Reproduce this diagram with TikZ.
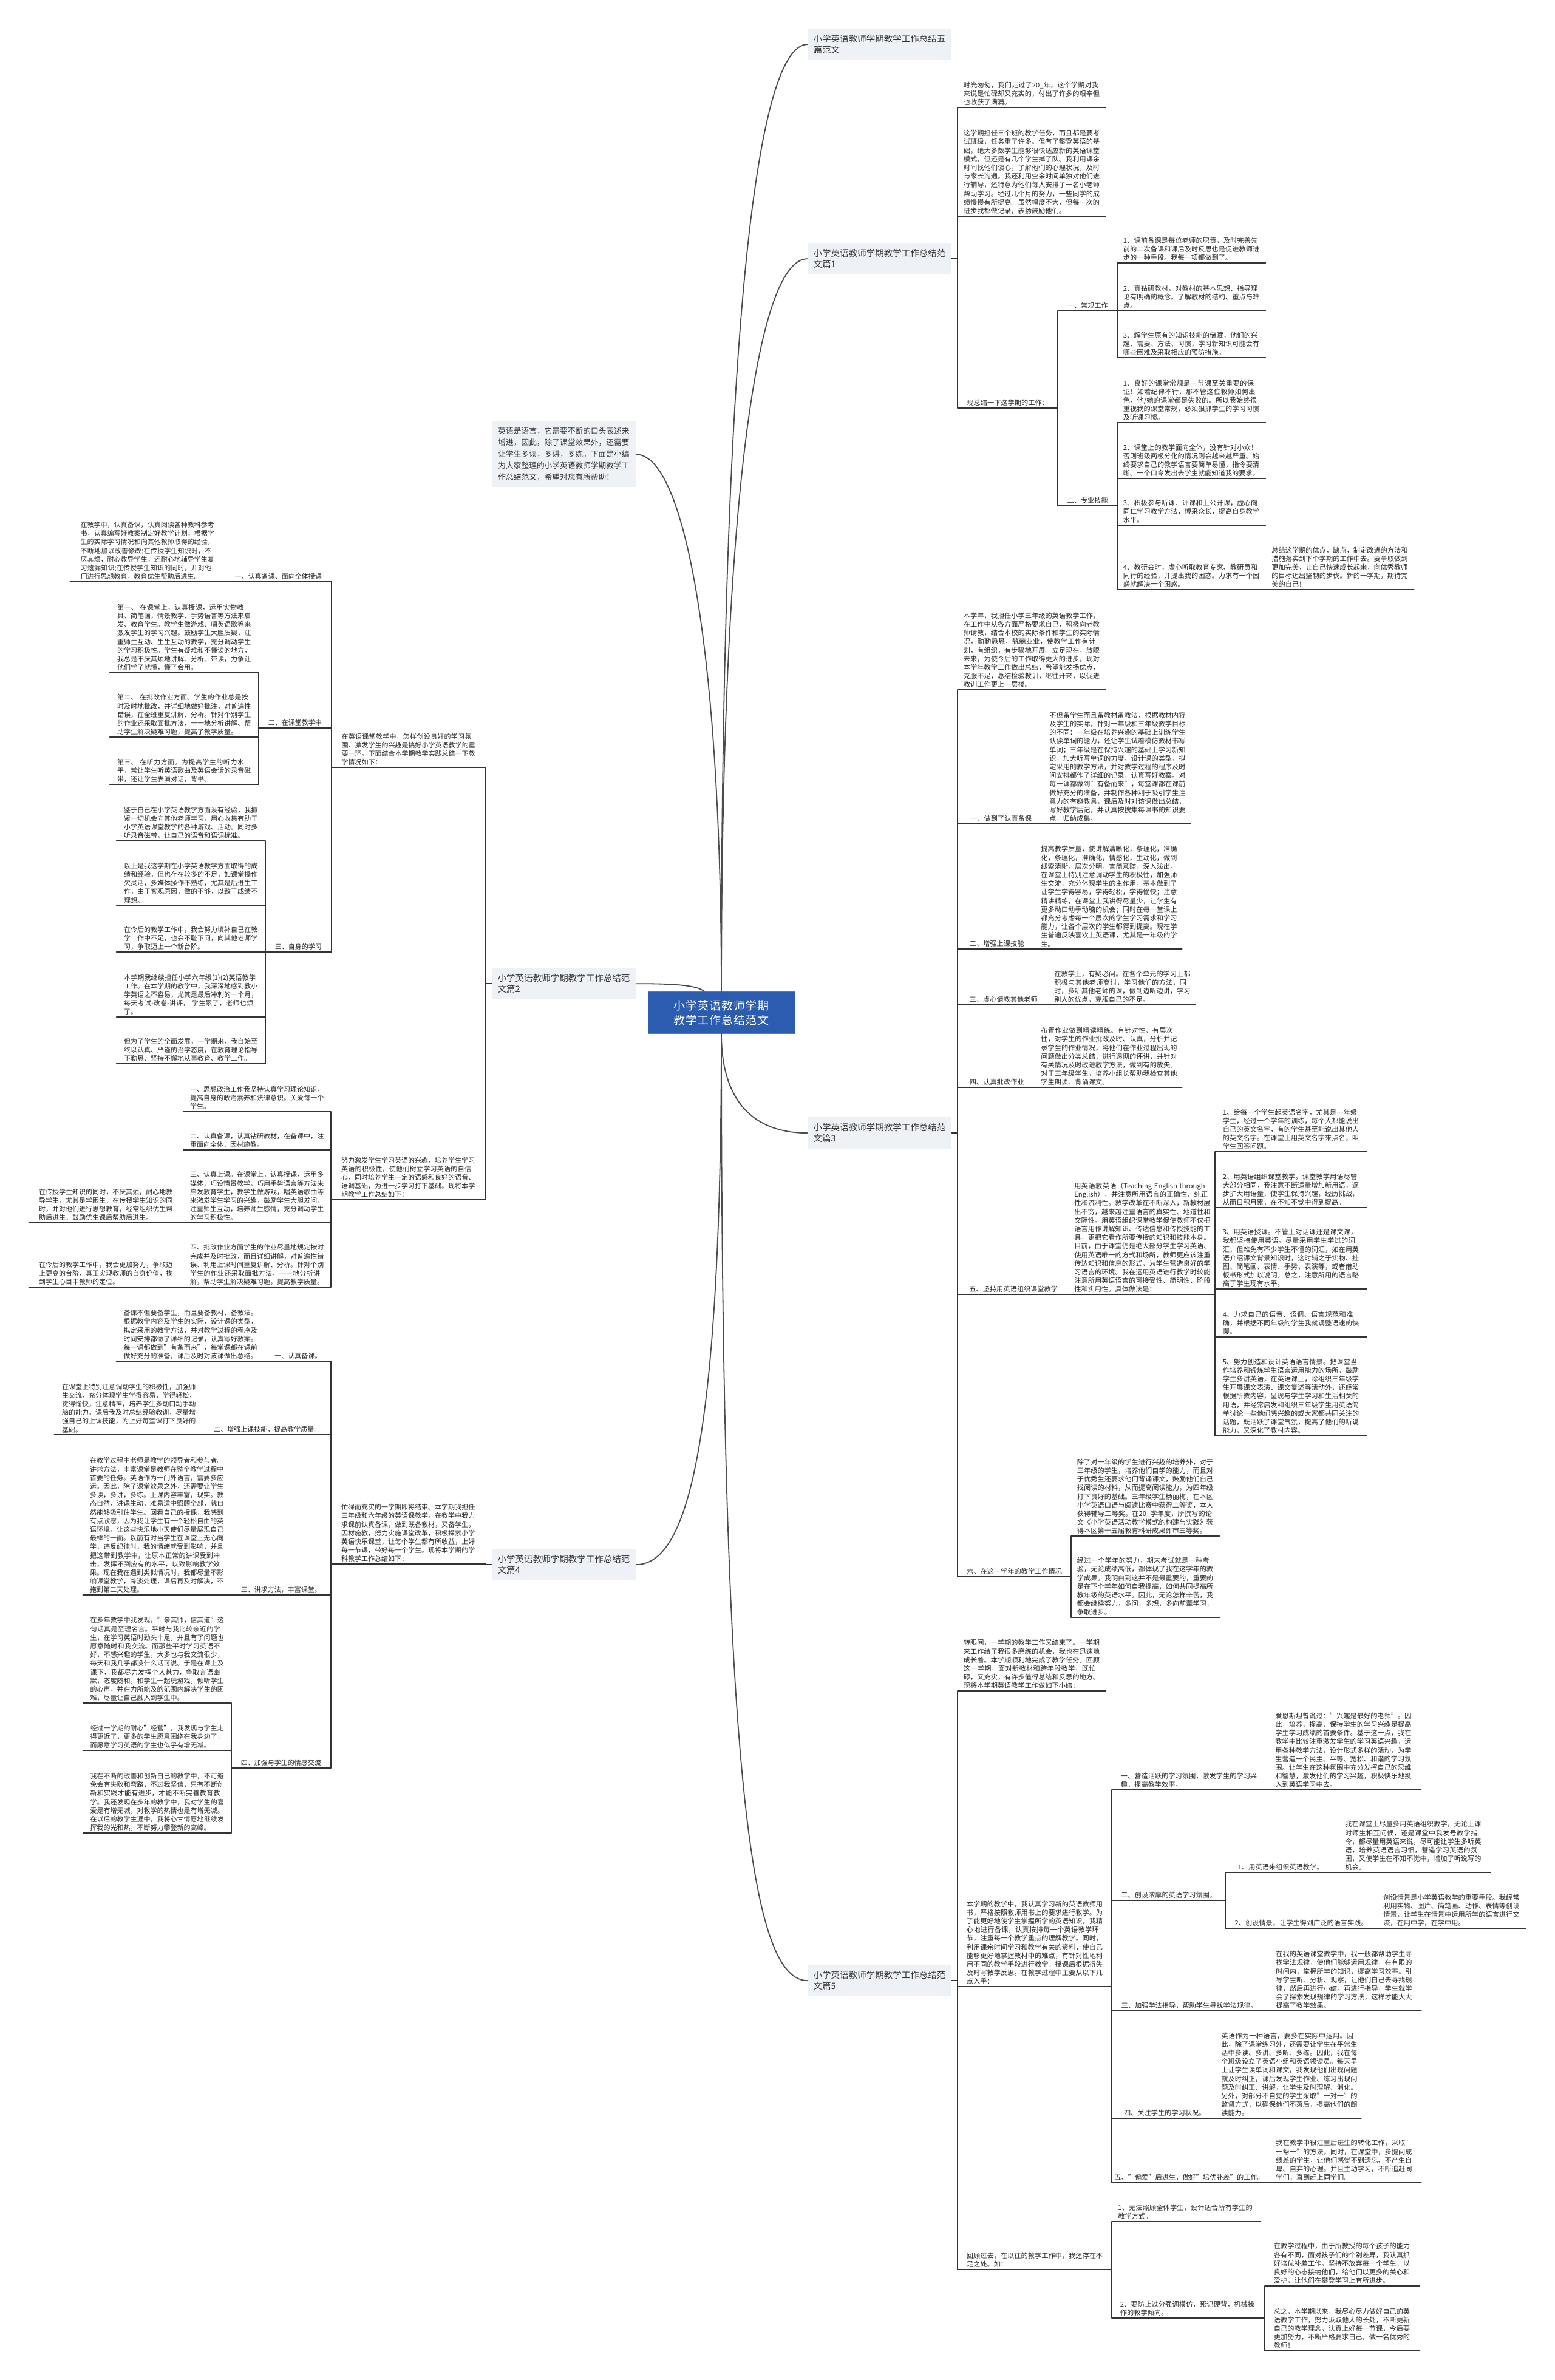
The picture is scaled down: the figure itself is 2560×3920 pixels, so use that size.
\documentclass[tikz,border=0pt]{standalone}
\usepackage{fontspec}
\setmainfont{Noto Sans CJK SC}
\XeTeXlinebreaklocale "zh"
\XeTeXlinebreakskip=0pt plus 1pt
\definecolor{hubblue}{HTML}{2B5CB0}
\definecolor{hubedge}{HTML}{4C7BCB}
\definecolor{topicgray}{HTML}{EEF1F5}
\newcommand\rtxt{\fontsize{11.2pt}{14.2pt}\selectfont}
\newcommand\ltxt{\fontsize{11pt}{14.2pt}\selectfont}
\newcommand\toptxt{\fontsize{14.5pt}{18.4pt}\selectfont}
\newcommand\notetxt{\fontsize{12.7pt}{19pt}\selectfont}
\newcommand\hubtxt{\fontsize{19pt}{24.5pt}\selectfont}
\begin{document}
\begin{tikzpicture}[x=1pt,y=-1pt,line join=round,line cap=round,font=\rtxt,
  hub/.style={fill=hubblue,draw=hubedge,line width=1pt,text=white,font=\hubtxt,text width=210pt,align=center,inner xsep=16pt,inner ysep=13pt},
  topic/.style={anchor=north west,fill=topicgray,text=black!80,font=\toptxt,text width=218pt,align=left,inner xsep=9.5pt,inner ysep=10pt},
  note/.style={anchor=north west,fill=topicgray,text=black!80,font=\notetxt,text width=216.5pt,align=left,inner xsep=10.25pt,inner ysep=10pt},
  leaf/.style={anchor=south west,text width=224.5pt,minimum width=244pt,inner xsep=0pt,inner ysep=3pt,align=left,text=black!85},
  leafl/.style={anchor=south east,font=\ltxt,text width=220.5pt,minimum width=245pt,inner xsep=0pt,inner ysep=3pt,align=left,text=black!85},
  lab/.style={anchor=south west,inner xsep=0pt,inner ysep=3pt,text=black!85},
  labl/.style={anchor=south east,font=\ltxt,inner xsep=0pt,inner ysep=3pt,text=black!85},
  ul/.style={line width=1.4pt,draw=black!80},
  branch/.style={line width=1.8pt,draw=black!70}]
\useasboundingbox[fill=white] (0,0) rectangle (2560,3920);
% 中心主题
\node[hub] (hub) at (1188,1668) {小学英语教师学期教学工作总结范文};
% 一级分支
\node[topic] (t0) at (1330,47) {小学英语教师学期教学工作总结五篇范文};
\node[topic] (t1) at (1330,400) {小学英语教师学期教学工作总结范文篇1};
\node[topic] (t3) at (1330,1840) {小学英语教师学期教学工作总结范文篇3};
\node[topic] (t5) at (1330,3236) {小学英语教师学期教学工作总结范文篇5};
\node[note] (nt) at (810,694) {英语是语言，它需要不断的口头表述来增进，因此，除了课堂效果外，还需要让学生多读，多讲，多练。下面是小编为大家整理的小学英语教师学期教学工作总结范文，希望对您有所帮助！};
\node[topic] (t2) at (810,1594) {小学英语教师学期教学工作总结范文篇2};
\node[topic] (t4) at (810,2551) {小学英语教师学期教学工作总结范文篇4};
\draw[branch] (hub.north) .. controls +(0,-1030) and +(-90,0) .. (t0.west);
\draw[branch] (hub.north) .. controls +(0,-750) and +(-90,0) .. (t1.west);
\draw[branch] (hub.north) .. controls +(0,-560) and +(80,0) .. (nt.east);
\draw[branch] (t2.east) .. controls +(70,0) and +(-10,-10) .. ([xshift=-28pt]hub.north);
\draw[branch] (hub.south) .. controls +(0,110) and +(-90,0) .. (t3.west);
\draw[branch] (hub.south) .. controls +(0,700) and +(80,0) .. (t4.east);
\draw[branch] (hub.south) .. controls +(0,1250) and +(-90,0) .. (t5.west);
% 篇1
\node[leaf] (r1a) at (1577,177) {时光匆匆，我们走过了20\_年，这个学期对我来说是忙碌却又充实的，付出了许多的艰辛但也收获了满满。};
\node[leaf] (r1b) at (1577,356) {这学期担任三个班的教学任务，而且都是要考试班级，任务重了许多。但有了攀登英语的基础，绝大多数学生能够很快适应新的英语课堂模式，但还是有几个学生掉了队。我利用课余时间找他们谈心，了解他们的心理状况，及时与家长沟通。我还利用空余时间单独对他们进行辅导，还特意为他们每人安排了一名小老师帮助学习。经过几个月的努力，一些同学的成绩慢慢有所提高。虽然幅度不大，但每一次的进步我都做记录，表扬鼓励他们。};
\node[lab,minimum width=165pt] (r1c) at (1577,672) {现总结一下这学期的工作：};
\node[lab,minimum width=98pt] (r1c1) at (1742,512) {一、常规工作};
\node[leaf] (r1c1a) at (1840,433) {1、课前备课是每位老师的职责，及时完善先前的二次备课和课后及时反思也是促进教师进步的一种手段。我每一项都做到了。};
\node[leaf] (r1c1b) at (1840,512) {2、真钻研教材，对教材的基本思想、指导理论有明确的概念。了解教材的结构、重点与难点。};
\node[leaf] (r1c1c) at (1840,589) {3、解学生原有的知识技能的储藏，他们的兴趣、需要、方法、习惯，学习新知识可能会有哪些困难及采取相应的预防措施。};
\node[lab,minimum width=98pt] (r1c2) at (1742,833) {二、专业技能};
\node[leaf] (r1c2a) at (1840,696) {1、良好的课堂常规是一节课至关重要的保证！如若纪律不行，那不管这位教师如何出色，他/她的课堂都是失败的。所以我始终很重视我的课堂常规，必须狠抓学生的学习习惯及听课习惯。};
\node[leaf] (r1c2b) at (1840,788) {2、课堂上的教学面向全体，没有针对小众！否则班级两极分化的情况则会越来越严重。始终要求自己的教学语言要简单易懂，指令要清晰。一个口令发出去学生就能知道我的要求。};
\node[leaf] (r1c2c) at (1840,865) {3、积极参与听课、评课和上公开课，虚心向同仁学习教学方法，博采众长，提高自身教学水平。};
\node[leaf] (r1c2d) at (1840,971) {4、教研会时，虚心听取教育专家、教研员和同行的经验，并提出我的困惑。力求有一个困惑就解决一个困惑。};
\node[leaf] (r1c2d1) at (r1c2d.south east) {总结这学期的优点，缺点，制定改进的方法和措施落实到下个学期的工作中去。要争取做到更加完美，让自己快速成长起来，向优秀教师的目标迈出坚韧的步伐。新的一学期，期待完美的自己！};
% 篇3
\node[leaf] (r3a) at (1577,1136) {本学年，我担任小学三年级的英语教学工作，在工作中从各方面严格要求自己，积极向老教师请教，结合本校的实际条件和学生的实际情况，勤勤恳恳，兢兢业业，使教学工作有计划，有组织，有步骤地开展。立足现在，放眼未来，为使今后的工作取得更大的进步，现对本学年教学工作做出总结，希望能发扬优点，克服不足，总结检验教训，继往开来，以促进教训工作更上一层楼。};
\node[lab,minimum width=143pt] (r3b) at (1577,1357) {一、做到了认真备课};
\node[leaf,minimum width=240pt] (r3b1) at (r3b.south east) {不但备学生而且备教材备教法，根据教材内容及学生的实际，针对一年级和三年级教学目标的不同：一年级在培养兴趣的基础上训练学生认读单词的能力，还让学生试着模仿教材书写单词；三年级是在保持兴趣的基础上学习新知识，加大听写单词的力度。设计课的类型，拟定采用的教学方法，并对教学过程的程序及时间安排都作了详细的记录，认真写好教案。对每一课都做到"有备而来"，每堂课都在课前做好充分的准备，并制作各种利于吸引学生注意力的有趣教具，课后及时对该课做出总结，写好教学后记，并认真按搜集每课书的知识要点，归纳成集。};
\node[lab,minimum width=129pt] (r3c) at (1577,1563) {二、增强上课技能};
\node[leaf,minimum width=240pt] (r3c1) at (r3c.south east) {提高教学质量，使讲解清晰化，条理化，准确化，条理化，准确化，情感化，生动化，做到线索清晰，层次分明，言简意赅，深入浅出。在课堂上特别注意调动学生的积极性，加强师生交流，充分体现学生的主作用，基本做到了让学生学得容易，学得轻松，学得愉快；注意精讲精练，在课堂上我讲得尽量少，让学生有更多动口动手动脑的机会；同时在每一堂课上都充分考虑每一个层次的学生学习需求和学习能力，让各个层次的学生都得到提高。现在学生普遍反映喜欢上英语课，尤其是一年级的学生。};
\node[lab,minimum width=151pt] (r3d) at (1577,1655) {三、虚心请教其他老师};
\node[leaf,minimum width=240pt] (r3d1) at (r3d.south east) {在教学上，有疑必问。在各个单元的学习上都积极与其他老师商讨，学习他们的方法，同时，多听其他老师的课，做到边听边讲，学习别人的优点，克服自己的不足。};
\node[lab,minimum width=129pt] (r3e) at (1577,1791) {四、认真批改作业};
\node[leaf,minimum width=240pt] (r3e1) at (r3e.south east) {布置作业做到精读精练。有针对性，有层次性，对学生的作业批改及时、认真，分析并记录学生的作业情况，将他们在作业过程出现的问题做出分类总结，进行透彻的评讲，并针对有关情况及时改进教学方法，做到有的放矢。对于三年级学生，培养小组长帮助我检查其他学生朗读、背诵课文。};
\node[lab,minimum width=184pt] (r3f) at (1577,2132) {五、坚持用英语组织课堂教学};
\node[leaf,minimum width=240pt] (r3f1) at (r3f.south east) {用英语教英语（Teaching English through English），并注意所用语言的正确性、纯正性和流利性。教学改革在不断深入，新教材层出不穷，越来越注重语言的真实性、地道性和交际性。用英语组织课堂教学促使教师不仅把语言用作讲解知识、传达信息和传授技能的工具，更把它看作所要传授的知识和技能本身。目前，由于课堂仍是绝大部分学生学习英语、使用英语唯一的方式和场所，教师更应该注重传达知识和信息的形式，为学生营造良好的学习语言的环境。我在运用英语进行教学时较能注意所用英语语言的可接受性、简明性、阶段性和实用性。具体做法是：};
\node[leaf,minimum width=250pt] (r3f1a) at (2001,1897) {1、给每一个学生起英语名字，尤其是一年级学生，经过一个学年的训练，每个人都能说出自己的英文名字，有的学生甚至能说出其他人的英文名字。在课堂上用英文名字来点名，叫学生回答问题。};
\node[leaf,minimum width=250pt] (r3f1b) at (2001,1989) {2、用英语组织课堂教学。课堂教学用语尽管大部分相同，我注意不断适量增加新用语，逐步扩大用语量，使学生保持兴趣，经历挑战，从而日积月累，在不知不觉中得到提高。};
\node[leaf,minimum width=250pt] (r3f1c) at (2001,2123) {3、用英语授课。不管上对话课还是课文课，我都坚持使用英语。尽量采用学生学过的词汇，但难免有不少学生不懂的词汇，如在用英语介绍课文背景知识时，这时辅之于实物、挂图、简笔画、表情、手势、表演等，或者借助板书形式加以说明。总之，注意所用的语言略高于学生现有水平。};
\node[leaf,minimum width=250pt] (r3f1d) at (2001,2202) {4、力求自己的语音、语调、语言规范和准确，并根据不同年级的学生我就调整语速的快慢。};
\node[leaf,minimum width=250pt] (r3f1e) at (2001,2365) {5、努力创造和设计英语语言情景。把课堂当作培养和锻炼学生语言运用能力的场所，鼓励学生多讲英语，在英语课上，除组织三年级学生开展课文表演、课文复述等活动外，还经常根据所教内容，呈现与学生学习和生活相关的用语，并经常启发和组织三年级学生用英语简单讨论一些他们感兴趣的或大家都共同关注的话题，既活跃了课堂气氛，提高了他们的听说能力，又深化了教材内容。};
\node[lab,minimum width=187pt] (r3g) at (1577,2597) {六、在这一学年的教学工作情况};
\node[leaf] (r3g1) at (1764,2530) {除了对一年级的学生进行兴趣的培养外，对于三年级的学生，培养他们自学的能力，而且对于优秀生还要求他们背诵课文，鼓励他们自己找阅读的材料，从而提高阅读能力，为四年级打下良好的基础。三年级学生杨丽梅，在本区小学英语口语与阅读比赛中获得二等奖，本人获得辅导二等奖。在20\_学年度，所撰写的论文《小学英语活动教学模式的构建与实践》获得本区第十五届教育科研成果评审三等奖。};
\node[leaf] (r3g2) at (1764,2664) {经过一个学年的努力，期末考试就是一种考验，无论成绩高低，都体现了我在这学年的教学成果。我明白到这并不是最重要的，重要的是在下个学年如何自我提高，如何共同提高所教年级的英语水平。因此，无论怎样辛苦，我都会继续努力，多问，多想，多向前辈学习，争取进步。};
% 篇5
\node[leaf] (r5a) at (1577,2785) {转眼间，一学期的教学工作又结束了。一学期来工作给了我很多磨练的机会，我也在迅速地成长着。本学期顺利地完成了教学任务。回顾这一学期，面对新教材和跨年段教学，既忙碌，又充实，有许多值得总结和反思的地方。现将本学期英语教学工作做如下小结：};
\node[leaf,minimum width=254pt] (r5b) at (1577,3272) {本学期的教学中，我认真学习新的英语教师用书，严格按照教师用书上的要求进行教学。为了能更好地使学生掌握所学的英语知识，我精心地进行备课，认真按排每一个英语教学环节，注重每一个教学重点的理解教学。同时，利用课余时间学习和教学有关的资料，使自己能够更好地掌握教材中的难点，有针对性地利用不同的教学手段进行教学。授课后根据得失及时写教学反思。在教学过程中主要从以下几点入手：};
\node[leaf,minimum width=254pt] (r5b1) at (1831,2948) {一、营造活跃的学习氛围，激发学生的学习兴趣，提高教学效率。};
\node[leaf,minimum width=254pt] (r5b1a) at (r5b1.south east) {爱恩斯坦曾说过："兴趣是最好的老师"。因此，培养，提高，保持学生的学习兴趣是提高学生学习成绩的首要条件。基于这一点，我在教学中比较注重激发学生的学习英语兴趣，运用各种教学方法，设计形式多样的活动，为学生营造一个民主、平等、宽松、和谐的学习氛围。让学生在这种氛围中充分发挥自己的思维和智慧，激发他们的学习兴趣，积极快乐地投入到英语学习中去。};
\node[lab,minimum width=187pt] (r5b2) at (1831,3130) {二、创设浓厚的英语学习氛围。};
\node[lab,minimum width=182pt] (r5b2a) at (2018,3084) {1、用英语来组织英语教学。};
\node[leaf,minimum width=254pt] (r5b2a1) at (r5b2a.south east) {我在课堂上尽量多用英语组织教学，无论上课时师生相互问候，还是课堂中我发号教学指令，都尽量用英语来说，尽可能让学生多听英语，培养英语语言习惯，营造学习英语的氛围，又使学生在不知不觉中，增加了听说写的机会。};
\node[lab,minimum width=250pt] (r5b2b) at (2018,3176) {2、创设情景，让学生得到广泛的语言实践。};
\node[leaf] (r5b2b1) at (r5b2b.south east) {创设情景是小学英语教学的重要手段。我经常利用实物、图片、简笔画、动作、表情等创设情景，让学生在情景中运用所学的语言进行交流，在用中学，在学中用。};
\node[lab,minimum width=255pt] (r5b3) at (1831,3312) {三、加强学法指导，帮助学生寻找学法规律。};
\node[leaf,minimum width=254pt] (r5b3a) at (r5b3.south east) {在我的英语课堂教学中，我一般都帮助学生寻找学法规律，使他们能够运用规律，在有限的时间内，掌握所学的知识，提高学习效率。引导学生听、分析、观察，让他们自己去寻找规律，然后再进行小结。再进行指导，学生就学会了探索发现规律的学习方法，这样才能大大提高了教学效果。};
\node[lab,minimum width=174pt] (r5b4) at (1831,3489) {四、关注学生的学习状况。};
\node[leaf,minimum width=236pt] (r5b4a) at (r5b4.south east) {英语作为一种语言，要多在实际中运用。因此，除了课堂练习外，还需要让学生在平常生活中多读、多讲、多听、多练。因此，我在每个班级设立了英语小组和英语领读员。每天早上让学生读单词和课文，我发现他们出现问题就及时纠正，课后发现学生作业、练习出现问题及时纠正、讲解，让学生及时理解、消化。另外，对部分不自觉的学生采取"一对一"的监督方式，以确保他们不落后，提高他们的朗读能力。};
\node[lab,minimum width=255pt] (r5b5) at (1831,3595) {五、"偏爱"后进生，做好"培优补差"的工作。};
\node[leaf,minimum width=254pt] (r5b5a) at (r5b5.south east) {我在教学中很注重后进生的转化工作，采取"一帮一"的方法，同时，在课堂中，多提问成绩差的学生，让他们感觉不到遗忘、不产生自卑、自弃的心理。并且主动学习，不断追赶同学们，直到赶上同学们。};
\node[leaf,minimum width=254pt] (r5c) at (1577,3738) {回顾过去，在以往的教学工作中，我还存在不足之处。如：};
\node[leaf,minimum width=245pt] (r5c1) at (1831,3659) {1、无法照顾全体学生，设计适合所有学生的教学方式。};
\node[leaf,minimum width=252pt] (r5c2) at (1831,3818) {2、要防止过分强调模仿，死记硬背，机械操作的教学倾向。};
\node[leaf,minimum width=254pt] (r5c2a) at (2083,3765) {在教学过程中，由于所教授的每个孩子的能力各有不同，面对孩子们的个别差异，我认真抓好培优补差工作。坚持不放弃每一个学生，以良好的心态接纳他们，给他们以更多的关心和爱护，让他们在攀登学习上有所进步。};
\node[leaf,minimum width=254pt] (r5c2b) at (2083,3872) {总之，本学期以来，我尽心尽力做好自己的英语教学工作，努力汲取他人的长处，不断更新自己的教学理念，认真上好每一节课，今后要更加努力，不断严格要求自己，做一名优秀的教师！};
% 篇2
\node[leafl,minimum width=254pt] (lA) at (800,1264) {在英语课堂教学中，怎样创设良好的学习氛围、激发学生的兴趣是搞好小学英语教学的重要一环。下面结合本学期教学实践总结一下教学情况如下：};
\node[labl,minimum width=175pt] (lA1) at (546,958) {一、认真备课、面向全体授课};
\node[leafl,minimum width=255pt] (lA1a) at (lA1.south west) {在教学中，认真备课，认真阅读各种教科参考书，认真编写好教案制定好教学计划，根据学生的实际学习情况和向其他教师取得的经验，不断地加以改善修改;在传授学生知识时，不厌其烦，耐心教导学生，还耐心地辅导学生复习遗漏知识;在传授学生知识的同时，并对他们进行思想教育，教育优生帮助后进生。};
\node[labl,minimum width=120pt] (lA2) at (546,1199) {二、在课堂教学中};
\node[leafl] (lA2a) at (426,1108) {第一、 在课堂上，认真授课，运用实物教具、简笔画，情景教学、手势语言等方法来启发、教育学生。教学生做游戏、唱英语歌等来激发学生的学习兴趣。鼓励学生大胆质疑，注重师生互动、生生互动的教学，充分调动学生的学习积极性。学生有疑难和不懂读的地方，我总是不厌其烦地讲解、分析、带读，力争让他们学了就懂，懂了会用。};
\node[leafl] (lA2b) at (426,1214) {第二、 在批改作业方面。学生的作业总是按时及时地批改，并详细地做好批注，对普遍性错误，在全班重复讲解、分析。针对个别学生的作业还采取面批方法，一一地分析讲解、帮助学生解决疑难习题，提高了教学质量。};
\node[leafl] (lA2c) at (426,1292) {第三、 在听力方面。为提高学生的听力水平，常让学生听英语歌曲及英语会话的录音磁带，还让学生表演对话，背书。};
\node[labl,minimum width=109pt] (lA3) at (546,1568) {三、自身的学习};
\node[leafl] (lA3a) at (437,1385) {鉴于自己在小学英语教学方面没有经验，我抓紧一切机会向其他老师学习，用心收集有助于小学英语课堂教学的各种游戏、活动。同时多听录音磁带，让自己的语音和语调标准。};
\node[leafl] (lA3b) at (437,1491) {以上是我这学期在小学英语教学方面取得的成绩和经验，但也存在较多的不足，如课堂操作欠灵活，多媒体操作不熟练，尤其是后进生工作，由于客观原因，做的不够，以致于成绩不理想。};
\node[leafl] (lA3c) at (437,1568) {在今后的教学工作中，我会努力填补自己在教学工作中不足，也会不耻下问，向其他老师学习，争取迈上一个新台阶。};
\node[leafl] (lA3d) at (437,1675) {本学期我继续担任小学六年级(1)(2)英语教学工作。在本学期的教学中，我深深地感到教小学英语之不容易，尤其是最后冲刺的一个月，每天考试-改卷-讲评， 学生累了，老师也烦了。};
\node[leafl] (lA3e) at (437,1752) {但为了学生的全面发展，一学期来，我自始至终以认真、严谨的治学态度，在教育理论指导下勤恳、坚持不懈地从事教育、教学工作。};
\node[leafl,minimum width=255pt] (lB) at (800,1976) {努力激发学生学习英语的兴趣，培养学生学习英语的积极性，使他们树立学习英语的自信心，同时培养学生一定的语感和良好的语音、语调基础，为进一步学习打下基础。现将本学期教学工作总结如下：};
\node[leafl,minimum width=243pt] (lB1) at (545,1831) {一、思想政治工作我坚持认真学习理论知识，提高自身的政治素养和法律意识。关爱每一个学生。};
\node[leafl,minimum width=243pt] (lB2) at (545,1894) {二、认真备课，认真钻研教材，在备课中，注重面向全体，因材施教。};
\node[leafl,minimum width=243pt] (lB3) at (545,2014) {三、认真上课。在课堂上，认真授课，运用多媒体，巧设情景教学，巧用手势语言等方法来启发教育学生，教学生做游戏，唱英语歌曲等来激发学生学习的兴趣，鼓励学生大胆发问，注重师生互动，培养师生感情，充分调动学生的学习积极性。};
\node[leafl,minimum width=254pt] (lB3a) at (lB3.south west) {在传授学生知识的同时，不厌其烦，耐心地教导学生，尤其是学困生，在传授学生知识的同时，并对他们进行思想教育，经常组织优生帮助后进生，鼓励优生课后帮助后进生。};
\node[leafl,minimum width=243pt] (lB4) at (545,2120) {四、批改作业方面学生的作业尽量地规定按时完成并及时批改，而且详细讲解，对普遍性错误、利用上课时间重复讲解、分析。针对个别学生的作业还采取面批方法，一一地分析讲解，帮助学生解决疑难习题，提高教学质量。};
\node[leafl,minimum width=254pt] (lB4a) at (lB4.south west) {在今后的教学工作中，我会更加努力，争取迈上更高的台阶，真正实现教师的自身价值，找到学生心目中教师的定位。};
% 篇4
\node[leafl,minimum width=255pt] (lC) at (800,2576) {忙碌而充实的一学期即将结束。本学期我担任三年级和六年级的英语课教学，在教学中我力求课前认真备课，做到既备教材，又备学生，因材施教，努力实施课堂改革，积极探索小学英语快乐课堂，让每个学生都有所收益，上好每一节课，带好每一个学生。现将本学期的学科教学工作总结如下：};
\node[labl,minimum width=108pt] (lC1) at (545,2242) {一、认真备课。};
\node[leafl] (lC1a) at (lC1.south west) {备课不但要备学生，而且要备教材、备教法。根据教学内容及学生的实际，设计课的类型，拟定采用的教学方法，并对教学过程的程序及时间安排都做了详细的记录，认真写好教案。每一课都做到"有备而来"，每堂课都在课前做好充分的准备，课后及时对该课做出总结。};
\node[labl,minimum width=209pt] (lC2) at (545,2363) {二、增强上课技能，提高教学质量。};
\node[leafl,minimum width=246pt] (lC2a) at (lC2.south west) {在课堂上特别注意调动学生的积极性，加强师生交流，充分体现学生学得容易，学得轻松，觉得愉快，注意精神，培养学生多动口动手动脑的能力。课后我及时总结经验教训，尽量增强自己的上课技能，为上好每堂课打下良好的基础。};
\node[labl,minimum width=164pt] (lC3) at (545,2627) {三、讲求方法，丰富课堂。};
\node[leafl,minimum width=244pt] (lC3a) at (lC3.south west) {在教学过程中老师是教学的领导者和参与者。讲求方法，丰富课堂是教师在整个教学过程中首要的任务。英语作为一门外语言，需要多应运。因此，除了课堂效果之外，还需要让学生多读，多讲，多练。上课内容丰富，现实。教态自然，讲课生动，难易适中照顾全部，就自然能够吸引住学生。回看自己的授课，我感到有点欣慰，因为我让学生有一个轻松自由的英语环境，让这些快乐地小天使们尽量展现自己最棒的一面。以前有时当学生在课堂上无心向学，违反纪律时，我的情绪就受到影响，并且把这带到教学中，让原本正常的讲课受到冲击，发挥不到应有的水平，以致影响教学效果。现在我在遇到类似情况时，我都尽量不影响课堂教学，冷淡处理，课后再及时解决，不拖到第二天处理。};
\node[labl,minimum width=164pt] (lC4) at (545,2912) {四、加强与学生的情感交流};
\node[leafl,minimum width=244pt] (lC4a) at (381,2805) {在多年教学中我发现，"亲其师，信其道"这句话真是至理名言。平时与我比较亲近的学生，在学习英语时劲头十足，并且有了问题也愿意随时和我交流。而那些平时学习英语不好，不感兴趣的学生，大多也与我交流很少，每天和我几乎都没什么话可说。于是在课上及课下，我都尽力发挥个人魅力，争取言语幽默，态度随和，和学生一起玩游戏，倾听学生的心声，并在力所能及的范围内解决学生的困难，尽量让自己融入到学生中。};
\node[leafl,minimum width=244pt] (lC4b) at (381,2883) {经过一学期的耐心"经营"，我发现与学生走得更近了，更多的学生愿意围绕在我身边了，而愿意学习英语的学生也似乎有增无减。};
\node[leafl,minimum width=244pt] (lC4c) at (381,3019) {我在不断的改善和创新自己的教学中，不可避免会有失败和弯路，不过我坚信，只有不断创新和实践才能有进步，才能不断完善教育教学。我还发现在多年的教学中，我对学生的喜爱是有增无减，对教学的热情也是有增无减。在以后的教学生涯中，我将心甘情愿地继续发挥我的光和热，不断努力攀登新的高峰。};
% 下划线
\foreach \n in {r1a,r1b,r1c,r1c1,r1c1a,r1c1b,r1c1c,r1c2,r1c2a,r1c2b,r1c2c,r1c2d,r1c2d1,
  r3a,r3b,r3b1,r3c,r3c1,r3d,r3d1,r3e,r3e1,r3f,r3f1,r3f1a,r3f1b,r3f1c,r3f1d,r3f1e,r3g,r3g1,r3g2,
  r5a,r5b,r5b1,r5b1a,r5b2,r5b2a,r5b2a1,r5b2b,r5b2b1,r5b3,r5b3a,r5b4,r5b4a,r5b5,r5b5a,r5c,r5c1,r5c2,r5c2a,r5c2b,
  lA,lA1,lA1a,lA2,lA2a,lA2b,lA2c,lA3,lA3a,lA3b,lA3c,lA3d,lA3e,lB,lB1,lB2,lB3,lB3a,lB4,lB4a,
  lC,lC1,lC1a,lC2,lC2a,lC3,lC3a,lC4,lC4a,lC4b,lC4c}
  \draw[ul] (\n.south west) -- (\n.south east);
% 竖线（右侧）
\foreach \a/\b in {r1a/r1c,r1c1/r1c2,r1c1a/r1c1c,r1c2a/r1c2d,r3a/r3g,r3f1a/r3f1e,r3g1/r3g2,
  r5a/r5c,r5b1/r5b5,r5b2a/r5b2b,r5c1/r5c2,r5c2a/r5c2b}
  \draw[ul] (\a.south west) -- (\b.south west);
% 竖线（左侧）
\foreach \a/\b in {lA/lB,lA1/lA3,lA2a/lA2c,lA3a/lA3e,lB1/lB4,lC1/lC4,lC4a/lC4c}
  \draw[ul] (\a.south east) -- (\b.south east);
% 分支与竖线的连接
\draw[ul] (t1.east) -- (t1.east -| r1a.south west);
\draw[ul] (t3.east) -- (t3.east -| r3a.south west);
\draw[ul] (t5.east) -- (t5.east -| r5a.south west);
\draw[ul] (t2.west) -- (t2.west -| lA.south east);
\draw[ul] (t4.west) -- (t4.west -| lC.south east);
\end{tikzpicture}
\end{document}
